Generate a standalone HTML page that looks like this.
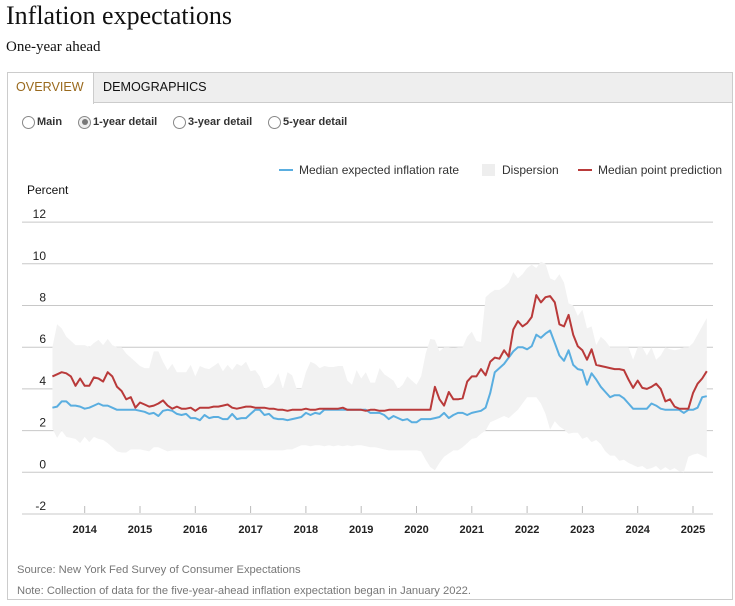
<!DOCTYPE html>
<html><head><meta charset="utf-8">
<style>
body{margin:0;width:735px;height:606px;background:#fff;position:relative;overflow:hidden;font-family:"Liberation Sans",Arial,sans-serif}
.abs{position:absolute}
#title{left:6px;top:1px;font-family:"Liberation Serif",serif;font-size:26px;color:#111}
#sub{left:6px;top:39px;font-family:"Liberation Serif",serif;font-size:15px;color:#111}
#panel{left:7px;top:72px;width:726px;height:528px;border:1px solid #ccc;box-sizing:border-box}
#tabbar{left:8px;top:73px;width:724px;height:30px;background:#eee;border-bottom:1px solid #ccc;box-sizing:border-box}
.tab{top:73px;height:30px;line-height:29px;font-size:12.6px;padding:0 8px;box-sizing:border-box}
#t1{left:8px;width:86px;background:#fff;color:#9a6a1e;border-right:1px solid #ccc;height:31px}
#t2{left:95px;color:#111}
.radio{top:115px;font-size:11px;font-weight:bold;color:#333;display:flex;align-items:center;height:14px}
.radio i{display:inline-block;width:13px;height:13px;border:1px solid #888;border-radius:50%;margin-right:2px;box-sizing:border-box;position:relative;background:#fff}
.radio i.on{background:#eee}
.radio i.on::after{content:"";position:absolute;left:2.5px;top:2.5px;width:6px;height:6px;border-radius:50%;background:#777}
.note{left:17px;font-size:11.2px;color:#777}
</style></head><body>
<div id="title" class="abs">Inflation expectations</div>
<div id="sub" class="abs">One-year ahead</div>
<div id="panel" class="abs"></div>
<div id="tabbar" class="abs"></div>
<div id="t1" class="abs tab">OVERVIEW</div>
<div id="t2" class="abs tab">DEMOGRAPHICS</div>
<div class="abs radio" style="left:22px"><i></i>Main</div>
<div class="abs radio" style="left:78px"><i class="on"></i>1-year detail</div>
<div class="abs radio" style="left:173px"><i></i>3-year detail</div>
<div class="abs radio" style="left:268px"><i></i>5-year detail</div>
<div class="abs note" style="top:564px">Source: New York Fed Survey of Consumer Expectations</div>
<div class="abs note" style="top:585px">Note: Collection of data for the five-year-ahead inflation expectation began in January 2022.</div>
<svg id="chart" class="abs" style="left:0;top:0" width="735" height="606"></svg>
<script>
const startYear = 2013, startMonth = 5;
const red = [4.6,4.7,4.8,4.75,4.6,4.15,4.5,
4.15,4.15,4.55,4.5,4.35,4.8,4.6,4.1,3.9,3.5,3.6,3.1,
3.35,3.25,3.15,3.2,3.3,3.45,3.2,3.05,3.15,3.05,3.05,3.1,
2.95,3.1,3.1,3.1,3.15,3.15,3.2,3.25,3.1,3.05,3.1,3.15,
3.15,3.1,3.1,3.1,3.05,3.05,3.0,3.0,2.95,3.0,3.0,3.0,
3.05,3.0,3.0,3.05,3.05,3.05,3.05,3.05,3.1,3.0,3.0,3.0,
3.0,2.95,3.0,3.0,2.95,2.95,3.0,3.0,3.0,3.0,3.0,3.0,
3.0,3.0,3.0,3.0,4.1,3.5,3.2,3.85,3.5,3.5,3.55,4.35,
4.6,4.6,4.95,4.65,5.3,5.5,5.45,5.85,5.55,6.85,7.25,7.0,
7.15,7.45,8.5,8.15,8.4,8.45,8.15,7.1,7.0,7.55,6.6,6.05,
5.85,5.4,5.9,5.15,5.1,5.05,5.0,4.95,4.95,4.9,4.45,4.05,
4.4,4.05,4.0,4.1,4.25,4.0,3.4,3.5,3.15,3.05,3.05,3.05,
3.8,4.25,4.5,4.85];
const blue = [3.1,3.15,3.4,3.4,3.2,3.2,3.15,
3.05,3.1,3.2,3.3,3.2,3.2,3.1,3.0,3.0,3.0,3.0,3.0,
2.95,2.9,2.8,2.85,2.7,2.95,3.0,2.95,2.8,2.75,2.8,2.6,
2.6,2.5,2.75,2.6,2.65,2.65,2.55,2.55,2.8,2.55,2.6,2.6,
2.8,3.0,3.0,2.75,2.8,2.6,2.55,2.55,2.5,2.55,2.6,2.65,
2.85,2.75,2.85,2.8,3.0,3.0,3.0,3.0,3.0,3.0,3.0,3.0,
3.0,3.0,2.85,2.85,2.85,2.75,2.55,2.7,2.6,2.5,2.55,2.4,
2.4,2.55,2.55,2.55,2.6,2.65,2.85,2.6,2.75,2.85,2.85,2.75,
2.85,2.9,2.95,3.1,3.8,4.8,5.0,5.2,5.5,5.8,6.0,6.0,
5.9,6.05,6.6,6.45,6.65,6.8,6.2,5.6,5.35,5.85,5.15,4.95,
4.9,4.2,4.75,4.45,4.1,3.85,3.6,3.7,3.7,3.55,3.3,3.05,
3.05,3.05,3.05,3.3,3.2,3.05,3.0,3.0,3.0,3.0,2.85,3.0,
3.0,3.1,3.6,3.65];
const upper = [6.0,7.1,6.9,6.5,6.3,6.1,6.1,
6.1,6.0,6.2,6.35,6.1,6.4,6.1,6.0,6.0,5.7,5.5,5.3,
5.1,5.0,5.0,5.8,5.8,5.3,4.9,5.2,4.8,4.8,4.8,5.15,
4.6,5.1,5.0,4.95,5.1,5.25,4.85,5.15,4.9,5.2,5.1,5.3,
4.85,4.9,4.6,4.0,4.1,4.3,4.75,4.0,4.8,4.65,4.0,4.0,
4.8,5.3,5.2,5.0,5.1,5.05,5.05,5.1,5.1,4.4,4.2,4.9,
4.5,4.8,4.3,4.3,5.0,4.7,4.55,4.4,4.0,4.2,4.6,4.4,
4.2,4.6,5.7,6.4,6.35,5.8,6.0,6.0,5.95,6.0,6.0,6.5,
6.75,6.3,6.25,8.4,8.6,8.75,8.75,8.9,9.1,9.6,9.3,9.5,
9.8,9.95,9.8,10.1,10.0,9.3,9.2,9.5,9.1,8.1,8.0,7.5,
7.8,6.9,7.0,6.1,6.5,6.3,6.0,6.0,6.0,6.0,6.0,5.4,
6.0,6.0,5.6,6.0,5.4,5.6,6.0,5.9,5.85,5.9,6.0,6.0,
6.2,6.6,7.0,7.4];
const lower = [2.1,1.65,2.0,1.7,1.65,1.6,1.4,
1.7,1.45,1.7,1.6,1.55,1.4,1.2,1.0,0.95,0.95,1.1,1.1,
1.1,1.05,1.0,1.2,1.2,1.1,1.0,1.05,1.05,1.05,1.05,1.05,
1.05,1.05,1.05,1.05,1.05,1.05,1.05,1.05,1.05,1.05,1.05,1.05,
1.05,1.05,1.05,1.05,1.05,1.05,1.05,1.05,1.1,1.1,1.2,1.3,
1.3,1.25,1.3,1.3,1.25,1.3,1.25,1.3,1.25,1.3,1.25,1.3,
1.3,1.25,1.2,1.2,1.15,1.1,1.05,1.05,1.05,1.05,1.05,1.05,
1.05,1.0,0.6,0.25,0.1,0.45,0.75,0.9,1.05,1.05,1.2,1.4,
1.6,1.65,1.85,2.0,2.4,2.5,2.6,2.7,2.6,2.8,3.0,3.3,
3.6,3.6,3.6,3.3,2.8,2.05,2.45,2.2,2.05,1.85,1.9,1.9,
1.6,1.7,1.45,1.55,1.35,1.0,0.8,0.8,0.55,0.6,0.45,0.35,
0.25,0.3,0.15,0.2,0.3,0.1,0.25,0.1,0.2,0.05,0.0,0.75,
0.85,0.9,0.8,0.7];
const yTicks = [-2,0,2,4,6,8,10,12];
const xTicks = [2014,2015,2016,2017,2018,2019,2020,2021,2022,2023,2024,2025];

const NS='http://www.w3.org/2000/svg';
const svg=document.getElementById('chart');
const X0=22,X1=713;
function xs(t){return 84.7+55.3*(t-2014);}
function ys(v){return 472.3-20.85*v;}
function tOf(i){return startYear+(startMonth+i)/12;}
function mk(tag,attrs){const e=document.createElementNS(NS,tag);for(const k in attrs)e.setAttribute(k,attrs[k]);svg.appendChild(e);return e;}

yTicks.forEach(v=>{
  const l=mk('line',{x1:X0,x2:X1,y1:ys(v),y2:ys(v),stroke:'#c8c8c8','stroke-width':1});
  
  
  const t=mk('text',{x:46,y:ys(v)-4,'text-anchor':'end','font-size':12,fill:'#222','font-family':'Liberation Sans, sans-serif'});
  t.textContent=v;
  
  
});
const pt=mk('text',{x:27,y:194,'font-size':12,fill:'#111','font-family':'Liberation Sans, sans-serif'});
pt.textContent='Percent';


xTicks.forEach(y=>{
  const l=mk('line',{x1:xs(y),x2:xs(y),y1:506,y2:513,stroke:'#bbb'});
  
  
  const t=mk('text',{x:xs(y),y:533,'text-anchor':'middle','font-size':11,'font-weight':'bold',fill:'#222','font-family':'Liberation Sans, sans-serif'});
  t.textContent=y;
  
  
});
let d='';
upper.forEach((v,i)=>{d+=(i?'L':'M')+xs(tOf(i)).toFixed(1)+','+ys(v).toFixed(1);});
for(let i=lower.length-1;i>=0;i--){d+='L'+xs(tOf(i)).toFixed(1)+','+ys(lower[i]).toFixed(1);}
const band=mk('path',{d:d+'Z',fill:'#f2f2f2'});


function line(arr,color){
  const p=arr.map((v,i)=>(i?'L':'M')+xs(tOf(i)).toFixed(1)+','+ys(v).toFixed(1)).join('');
  return mk('path',{d:p,fill:'none',stroke:color,'stroke-width':2,'stroke-linejoin':'round'});
}
const bl=line(blue,'#5aaee0');


const rl=line(red,'#b93a3a');


const lg=[[279,'line','#5aaee0','Median expected inflation rate'],[482,'box','#eee','Dispersion'],[578,'line','#b93a3a','Median point prediction']];
lg.forEach(a=>{
  let m;
  if(a[1]==='line') m=mk('line',{x1:a[0],x2:a[0]+14,y1:170,y2:170,stroke:a[2],'stroke-width':2});
  else m=mk('rect',{x:a[0],y:164,width:13,height:12,fill:a[2]});
  
  
  const t=mk('text',{x:a[0]+20,y:174,'font-size':12,fill:'#333','font-family':'Liberation Sans, sans-serif'});
  t.textContent=a[3];
  
  
});
</script>
</body></html>
